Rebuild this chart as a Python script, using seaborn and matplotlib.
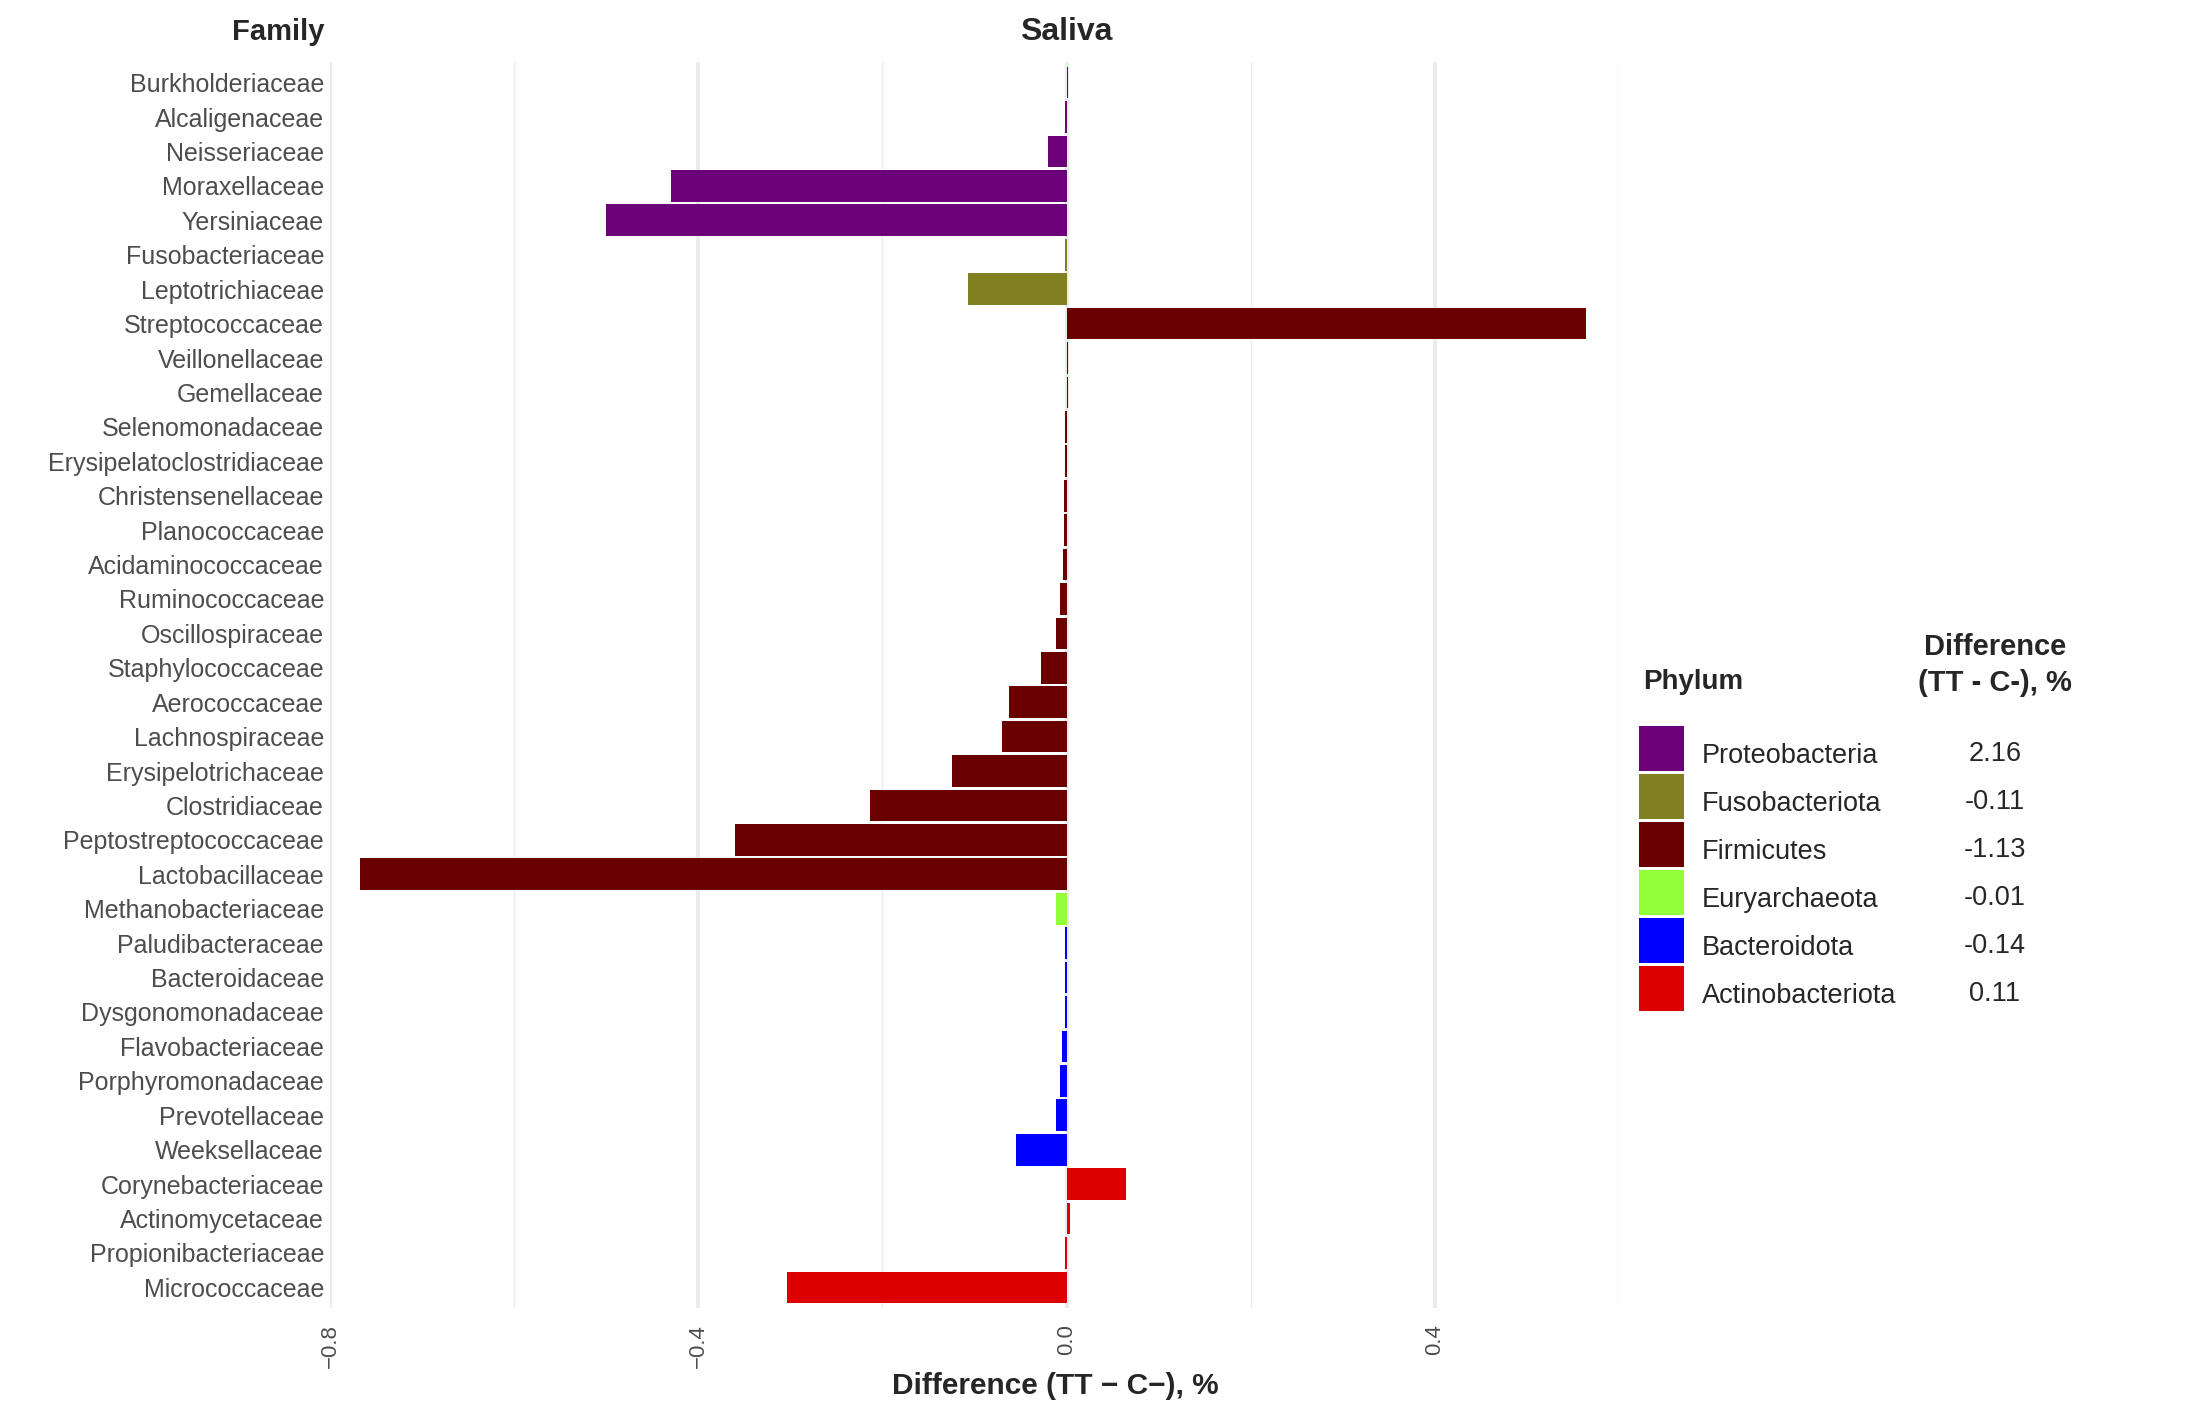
import matplotlib
matplotlib.use("Agg")
import matplotlib.pyplot as plt
import pandas as pd
import seaborn as sns
from matplotlib.legend_handler import HandlerPatch
from matplotlib.patches import Rectangle


families = [
    "Burkholderiaceae", "Alcaligenaceae", "Neisseriaceae", "Moraxellaceae", "Yersiniaceae",
    "Fusobacteriaceae", "Leptotrichiaceae",
    "Streptococcaceae", "Veillonellaceae", "Gemellaceae", "Selenomonadaceae",
    "Erysipelatoclostridiaceae", "Christensenellaceae", "Planococcaceae", "Acidaminococcaceae",
    "Ruminococcaceae", "Oscillospiraceae", "Staphylococcaceae", "Aerococcaceae",
    "Lachnospiraceae", "Erysipelotrichaceae", "Clostridiaceae", "Peptostreptococcaceae",
    "Lactobacillaceae",
    "Methanobacteriaceae",
    "Paludibacteraceae", "Bacteroidaceae", "Dysgonomonadaceae", "Flavobacteriaceae",
    "Porphyromonadaceae", "Prevotellaceae", "Weeksellaceae",
    "Corynebacteriaceae", "Actinomycetaceae", "Propionibacteriaceae", "Micrococcaceae",
]
family_phylum = (
    ["Proteobacteria"] * 5 + ["Fusobacteriota"] * 2 + ["Firmicutes"] * 17
    + ["Euryarchaeota"] + ["Bacteroidota"] * 7 + ["Actinobacteriota"] * 4
)
differences = [
    0.002, -0.0015, -0.020, -0.430, -0.500,
    -0.002, -0.107,
    0.564, 0.002, 0.0015, -0.002,
    -0.0015, -0.003, -0.0025, -0.004,
    -0.007, -0.011, -0.028, -0.063,
    -0.070, -0.124, -0.214, -0.360,
    -0.767,
    -0.012,
    -0.002, -0.002, -0.002, -0.005,
    -0.0075, -0.011, -0.055,
    0.065, 0.004, -0.0015, -0.304,
]

phyla = ["Proteobacteria", "Fusobacteriota", "Firmicutes", "Euryarchaeota", "Bacteroidota", "Actinobacteriota"]
phylum_colors = ["#6B0078", "#808020", "#6B0000", "#92FF3A", "#0000FF", "#DC0000"]
phylum_totals = ["2.16", "-0.11", "-1.13", "-0.01", "-0.14", "0.11"]

x_ticks = [-0.8, -0.4, 0.0, 0.4]
x_tick_labels = ["\u22120.8", "\u22120.4", "0.0", "0.4"]
x_minor = [-0.6, -0.2, 0.2, 0.6]

df = pd.DataFrame({"Family": families, "Phylum": family_phylum, "Difference": differences})

sns.set_theme(style="white")
plt.rcParams["font.family"] = ["Liberation Sans", "DejaVu Sans"]

W, H = 2200, 1414
fig = plt.figure(figsize=(W / 100, H / 100), dpi=100)
ax = fig.add_axes([330 / W, 1 - 1308 / H, 1289 / W, 1246 / H])

sns.barplot(data=df, x="Difference", y="Family", hue="Phylum", order=families,
            hue_order=phyla, palette=dict(zip(phyla, phylum_colors)), dodge=False,
            width=0.92, errorbar=None, saturation=1, linewidth=0, ax=ax)

ax.set_xlim(-0.8, 0.6)
ax.set_ylim(len(families) - 1 + 0.6, -0.6)
ax.set_xticks(x_ticks)
ax.set_xticklabels(x_tick_labels, rotation=90)
ax.set_xticks(x_minor, minor=True)
ax.set_axisbelow(True)
ax.grid(False)
ax.grid(axis="x", which="major", color="#EBEBEB", linewidth=2.9)
ax.grid(axis="x", which="minor", color="#EBEBEB", linewidth=1.0)
sns.despine(ax=ax, left=True, bottom=True, top=True, right=True)
ax.tick_params(axis="both", which="both", length=0)
ax.tick_params(axis="y", labelsize=18, labelcolor="#4D4D4D", pad=4.3)
ax.tick_params(axis="x", labelsize=16, labelcolor="#4D4D4D", pad=11.5)
ax.set_ylabel("")
ax.set_xlabel("")

# titles and axis label
fig.text(324 / W, 1 - 40 / H, "Family", ha="right", va="baseline", fontsize=21, fontweight="bold")
fig.text(1066 / W, 1 - 40 / H, "Saliva", ha="center", va="baseline", fontsize=23, fontweight="bold")
fig.text(1055 / W, 1 - 1394 / H, "Difference (TT \u2212 C\u2212), %", ha="center", va="baseline",
         fontsize=21.5, fontweight="bold")


def full_key(legend, orig_handle, xdescent, ydescent, width, height, fontsize):
    # square key that reaches above the text row, so labels sit a bit low like in ggplot
    return Rectangle((-xdescent, -ydescent), width, 1.66 * fontsize)


# legend
old = ax.get_legend()
handles = old.legend_handles
labels = [t.get_text() for t in old.get_texts()]
old.remove()
for h in handles:
    h.set_linewidth(0)
leg = fig.legend(handles, labels, loc="lower left", bbox_to_anchor=(1639 / W, 1 - 1011 / H),
                 bbox_transform=fig.transFigure, frameon=False, fontsize=19.5,
                 handlelength=1.66, handleheight=1.54, labelspacing=0.524,
                 handletextpad=0.66, borderpad=0, borderaxespad=0,
                 handler_map={type(handles[0]): HandlerPatch(patch_func=full_key)})

fig.text(1643 / W, 1 - 689 / H, "Phylum", ha="left", va="baseline", fontsize=20, fontweight="bold")
fig.text(1995 / W, 1 - 655 / H, "Difference", ha="center", va="baseline", fontsize=21, fontweight="bold")
fig.text(1995 / W, 1 - 691 / H, "(TT - C-), %", ha="center", va="baseline", fontsize=21, fontweight="bold")

fig.canvas.draw()
renderer = fig.canvas.get_renderer()
inv = fig.transFigure.inverted()
for txt, total in zip(leg.get_texts(), phylum_totals):
    bb = txt.get_window_extent(renderer)
    yc = inv.transform((0, (bb.y0 + bb.y1) / 2 + 2))[1]
    fig.text(1995 / W, yc, total, ha="center", va="center", fontsize=19.5)

fig.savefig("out.png", dpi=100)
